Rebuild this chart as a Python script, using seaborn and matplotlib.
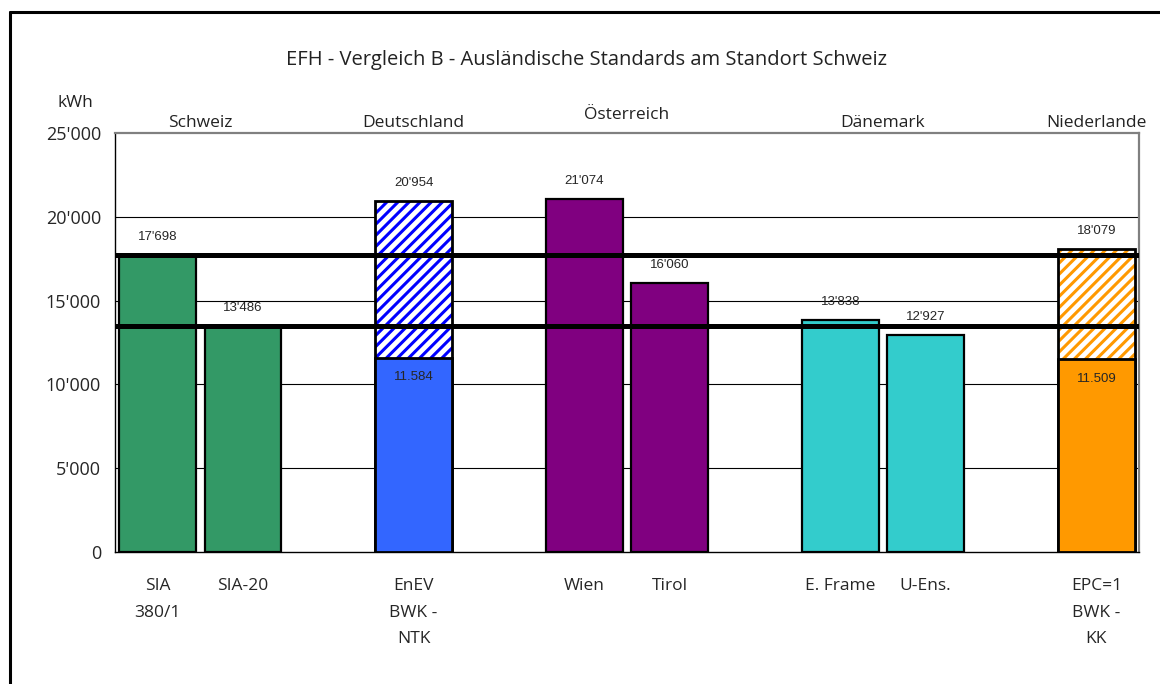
import pandas as pd
import matplotlib
matplotlib.use('Agg')
import matplotlib.pyplot as plt
import seaborn as sns
from matplotlib.patches import Rectangle
from matplotlib.lines import Line2D
import matplotlib.transforms as mtransforms

# data
slots = ['s0', 's1', 's2', 's3', 's4', 's5', 's6', 's7', 's8', 's9', 's10', 's11']
tick_labels = ['SIA\n380/1', 'SIA-20', '', 'EnEV\nBWK -\nNTK', '', 'Wien', 'Tirol', '',
               'E. Frame', 'U-Ens.', '', 'EPC=1\nBWK -\nKK']
totals = [17698, 13486, 0, 20954, 0, 21074, 16060, 0, 13838, 12927, 0, 18079]
base = [0, 0, 0, 11584, 0, 0, 0, 0, 0, 0, 0, 11509]
bar_colors = ['#339966', '#339966', 'white', '#3366FF', 'white', '#800080', '#800080', 'white',
              '#33CCCC', '#33CCCC', 'white', '#FF9900']
hatch_colors = {3: '#0000FF', 11: '#FF9900'}
countries = ['Schweiz', 'Deutschland', 'Österreich', 'Dänemark', 'Niederlande']
country_pos = [0.5, 3, 5.5, 8.5, 11]
country_y = [1.024, 1.024, 1.043, 1.024, 1.024]
ref_lines = [17698, 13486]

df = pd.DataFrame({'slot': slots, 'total': totals, 'base': base})

sns.set_style('white')
plt.rcParams['font.family'] = ['Open Sans', 'DejaVu Sans']
plt.rcParams['hatch.linewidth'] = 2.2

fig = plt.figure(figsize=(11.6, 6.84), dpi=100)
ax = fig.add_axes([115 / 1160, 1 - 552 / 684, (1139 - 115) / 1160, (552 - 133) / 684])

# gridlines behind bars
for v in [5000, 10000, 15000, 20000]:
    ax.axhline(v, color='black', lw=0.8, zorder=0)

sns.barplot(data=df, x='slot', y='total', color='white', width=0.9, saturation=1,
            edgecolor='black', linewidth=1.6, ax=ax, zorder=2)
total_patches = list(ax.patches)
for i, p in enumerate(total_patches):
    if totals[i] == 0:
        p.set_visible(False)
        continue
    if i in hatch_colors:
        p.set_facecolor('white')
        p.set_edgecolor(hatch_colors[i])
        p.set_hatch('///')
        p.set_linewidth(0)
        ax.add_patch(Rectangle(p.get_xy(), p.get_width(), p.get_height(), fill=False,
                               edgecolor='black', lw=2, zorder=3))
    else:
        p.set_facecolor(bar_colors[i])

n_before = len(ax.patches)
sns.barplot(data=df, x='slot', y='base', color='white', width=0.9, saturation=1,
            edgecolor='black', linewidth=2, ax=ax, zorder=4)
base_patches = list(ax.patches)[n_before:]
for i, p in enumerate(base_patches):
    if base[i] == 0:
        p.set_visible(False)
    else:
        p.set_facecolor(bar_colors[i])

# reference lines for the Swiss values
for v in ref_lines:
    ax.axhline(v, color='black', lw=3.6, zorder=6)

# value labels
for i, v in enumerate(totals):
    if v == 0:
        continue
    ax.annotate(f"{v:,}".replace(',', "'"), (i, v), xytext=(0, 13), textcoords='offset points',
                ha='center', va='center', fontsize=9.5, family='Liberation Sans', zorder=7)
for i, v in enumerate(base):
    if v == 0:
        continue
    ax.annotate(f"{v:,}".replace(',', '.'), (i, v), xytext=(0, -14), textcoords='offset points',
                ha='center', va='center', fontsize=9.5, family='Liberation Sans', zorder=7)

# country headers
trans = mtransforms.blended_transform_factory(ax.transData, ax.transAxes)
for name, x, y in zip(countries, country_pos, country_y):
    ax.text(x, y, name, transform=trans, ha='center', va='center', fontsize=12.5, color='#222222')

ax.set_xlim(-0.5, 11.5)
ax.set_ylim(0, 25000)
ax.set_yticks([0, 5000, 10000, 15000, 20000, 25000])
ax.set_yticklabels([f"{v:,}".replace(',', "'") for v in [0, 5000, 10000, 15000, 20000, 25000]],
                   fontsize=13)
ax.set_xticks(range(len(slots)))
ax.set_xticklabels(tick_labels, fontsize=12.5, linespacing=1.85, va='top')
ax.set_xticks([i - 0.5 for i in range(len(slots) + 1)], minor=True)
ax.tick_params(axis='x', which='major', length=0, pad=19)
ax.tick_params(axis='x', which='minor', length=6, width=1, color='black', direction='out')
ax.tick_params(axis='y', which='major', length=6, width=1, color='black', direction='out', pad=4)
ax.set_xlabel('')
ax.set_ylabel('')

for side in ['top', 'right']:
    ax.spines[side].set_color('#808080')
    ax.spines[side].set_linewidth(1.6)
for side in ['left', 'bottom']:
    ax.spines[side].set_color('black')
    ax.spines[side].set_linewidth(1)

fig.text(587 / 1160, 1 - 60 / 684, 'EFH - Vergleich B - Ausländische Standards am Standort Schweiz',
         ha='center', va='center', fontsize=14.5, color='#222222')
fig.text(75 / 1160, 1 - 103 / 684, 'kWh', ha='center', va='center', fontsize=12.5, color='#222222')

# outer frame (left and top edges visible)
fig.add_artist(Line2D([10 / 1160, 10 / 1160], [0, 1 - 12 / 684], color='black', lw=2.2,
                      transform=fig.transFigure))
fig.add_artist(Line2D([10 / 1160, 1], [1 - 12 / 684, 1 - 12 / 684], color='black', lw=2.2,
                      transform=fig.transFigure))

fig.savefig('out.png', dpi=100)
